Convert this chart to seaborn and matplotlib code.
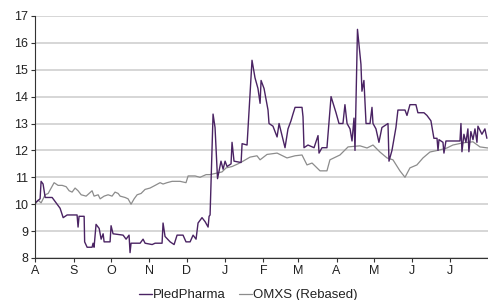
import numpy as np
import pandas as pd
import seaborn as sns
import matplotlib
matplotlib.use("Agg")
import matplotlib.pyplot as plt
import matplotlib.dates as mdates

# days since 1 Aug
pled_days = [0, 4.0, 4.8, 6.4, 8.1, 13.7, 17.7, 20.1, 22.6, 25.8, 33.8, 34.6, 35.4, 39.5, 39.9,
             41.9, 45.9, 46.7, 47.5, 49.1, 51.6, 53.2, 54.8, 55.6, 60.4, 61.2, 62.8, 70.9, 73.3,
             75.7, 76.5, 77.3, 84.6, 87.0, 88.6, 94.3, 96.7, 102.3, 103.1, 104.7, 108.8, 112.0,
             114.4, 119.2, 121.6, 124.9, 127.3, 129.7, 131.3, 134.5, 137.0, 139.4, 140.2, 141.0,
             143.4, 145.0, 147.0, 149.8, 151.5, 153.1, 154.7, 157.9, 158.7, 160.3, 166.0, 166.8,
             170.8, 174.8, 177.2, 179.6, 181.3, 182.1, 184.5, 187.7, 188.5, 191.7, 195.0, 196.6,
             201.4, 203.8, 206.2, 207.8, 209.5, 215.1, 215.9, 216.7, 219.9, 224.8, 228.0, 228.8,
             231.2, 235.2, 238.5, 242.5, 244.9, 248.1, 249.7, 251.4, 253.8, 255.4, 257.0, 257.8,
             259.8, 262.6, 263.4, 265.0, 266.7, 269.9, 271.5, 272.3, 274.7, 277.1, 279.5, 284.4,
             285.2, 287.6, 290.8, 292.4, 298.1, 299.7, 302.1, 306.9, 308.5, 313.4, 315.8, 319.0,
             321.4, 323.9, 324.7, 325.5, 328.7, 329.5, 331.1, 342.4, 343.2, 344.0, 345.6, 347.2,
             348.8, 349.6, 351.2, 352.9, 354.5, 356.1, 356.9, 360.1, 362.5, 364.1]
pled_vals = [10.05, 10.2, 10.85, 10.75, 10.25, 10.25, 10.0, 9.85, 9.5, 9.6, 9.6, 9.15, 9.55, 9.55, 8.6,
             8.4, 8.4, 8.55, 8.4, 9.25, 9.1, 8.7, 8.9, 8.6, 8.6, 9.2, 8.9, 8.85, 8.7,
             8.85, 8.2, 8.55, 8.55, 8.7, 8.55, 8.5, 8.55, 8.55, 9.3, 8.8, 8.6, 8.5,
             8.85, 8.85, 8.6, 8.6, 8.85, 8.7, 9.3, 9.5, 9.35, 9.15, 9.55, 9.6,
             13.35, 12.85, 10.95, 11.6, 11.3, 11.6, 11.4, 11.5, 12.3, 11.6, 11.55, 12.25,
             12.2, 15.35, 14.7, 14.3, 13.75, 14.6, 14.3, 13.5, 13.0, 12.9, 12.5, 13.0,
             12.1, 12.8, 13.1, 13.35, 13.6, 13.6, 13.25, 12.1, 12.2, 12.1, 12.55, 11.9,
             12.1, 12.1, 14.0, 13.4, 13.0, 13.0, 13.7, 13.0, 12.8, 12.35, 13.2, 12.0,
             16.5, 15.2, 14.2, 14.6, 13.0, 13.0, 13.6, 13.0, 12.8, 12.3, 12.85, 13.0,
             11.6, 12.0, 12.85, 13.5, 13.5, 13.3, 13.7, 13.7, 13.4, 13.4, 13.3, 13.1,
             12.45, 12.45, 12.0, 12.4, 12.3, 11.9, 12.35, 12.35, 13.0, 11.95, 12.6, 12.3,
             12.8, 11.95, 12.7, 12.4, 12.8, 12.3, 12.9, 12.6, 12.8, 12.45]

omx_days = [0, 2.4, 4.8, 8.1, 10.5, 12.9, 15.3, 18.5, 21.8, 25.0, 27.4, 29.8, 32.2, 34.6, 37.1,
            41.1, 43.5, 45.9, 47.5, 50.8, 52.4, 55.6, 58.8, 62.0, 64.4, 66.9, 68.5, 72.5, 74.9,
            77.3, 79.8, 82.2, 85.4, 88.6, 92.6, 96.7, 100.7, 103.1, 106.3, 110.4, 116.8, 121.6,
            123.3, 128.9, 132.9, 137.8, 141.0, 145.8, 150.6, 153.9, 158.7, 163.5, 167.6, 173.2,
            178.8, 181.3, 186.9, 195.0, 203.0, 209.5, 215.1, 219.1, 223.2, 229.6, 235.2, 237.6,
            245.7, 252.2, 261.8, 267.5, 272.3, 277.9, 283.6, 288.4, 294.0, 298.1, 302.1, 307.7,
            312.6, 318.2, 326.3, 331.9, 336.7, 344.8, 352.9, 358.5, 364.9]
omx_vals = [10.0, 10.15, 10.05, 10.35, 10.4, 10.6, 10.8, 10.7, 10.7, 10.65, 10.5, 10.45, 10.6, 10.5, 10.35,
            10.3, 10.4, 10.5, 10.3, 10.35, 10.2, 10.3, 10.35, 10.3, 10.45, 10.4, 10.3, 10.25, 10.2,
            10.0, 10.2, 10.35, 10.4, 10.55, 10.6, 10.7, 10.8, 10.75, 10.8, 10.85, 10.85, 10.8,
            11.05, 11.05, 11.0, 11.1, 11.1, 11.15, 11.2, 11.35, 11.4, 11.5, 11.6, 11.75,
            11.8, 11.65, 11.85, 11.9, 11.72, 11.8, 11.83, 11.46, 11.53, 11.24, 11.24, 11.65,
            11.83, 12.13, 12.17, 12.09, 12.2, 11.94, 11.72, 11.65, 11.24, 11.0, 11.35, 11.46,
            11.72, 11.94, 12.02, 12.09, 12.2, 12.28, 12.32, 12.13, 12.09]

month_labels = ["A", "S", "O", "N", "D", "J", "F", "M", "A", "M", "J", "J"]

start = pd.Timestamp("2012-08-01")
pled = pd.DataFrame({"date": start + pd.to_timedelta(pled_days, unit="D"), "value": pled_vals})
omx = pd.DataFrame({"date": start + pd.to_timedelta(omx_days, unit="D"), "value": omx_vals})

sns.set_theme(style="white")
plt.rcParams["font.family"] = ["Liberation Sans", "DejaVu Sans"]

fig = plt.figure(figsize=(4.88, 3.0), dpi=100)
ax = fig.add_axes([0.072, 0.14, 0.928, 0.807])

ax.yaxis.grid(True, color="#cccccc", linewidth=1.1)
ax.set_axisbelow(True)
sns.lineplot(data=omx, x="date", y="value", ax=ax, color="#8c8c8c", linewidth=0.9, label="OMXS (Rebased)")
sns.lineplot(data=pled, x="date", y="value", ax=ax, color="#4a2363", linewidth=1.0, label="PledPharma")

ax.set_ylim(8, 17)
ax.set_yticks(range(8, 18))
ax.set_xlim(start, start + pd.Timedelta(days=365))
ticks = pd.date_range(start, periods=12, freq="MS")
ax.set_xticks(ticks)
ax.set_xticklabels(month_labels)
ax.set_xlabel("")
ax.set_ylabel("")
ax.tick_params(axis="both", labelsize=9, length=3, width=0.8, color="#333333", pad=2,
               left=True, bottom=True, direction="out", labelcolor="#222222")
for s in ["top", "right"]:
    ax.spines[s].set_visible(False)
for s in ["left", "bottom"]:
    ax.spines[s].set_color("#333333")
    ax.spines[s].set_linewidth(0.8)

h, l = ax.get_legend_handles_labels()
ax.legend(h[::-1], l[::-1], loc="upper center", bbox_to_anchor=(0.47, -0.08), ncol=2, frameon=False,
          fontsize=9.5, handlelength=1.0, handletextpad=0.05, columnspacing=1.0, labelcolor="#222222")

fig.savefig("out.png", dpi=100)
